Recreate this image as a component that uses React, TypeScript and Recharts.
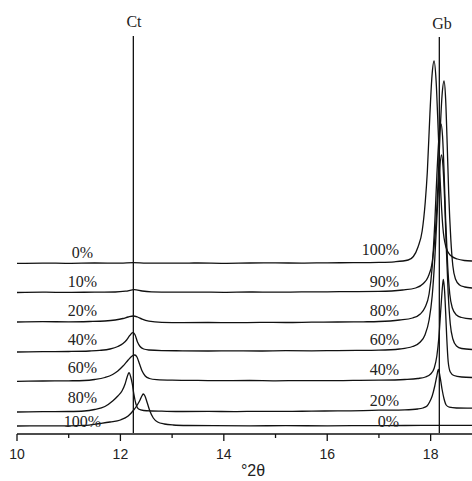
import React from 'react';
import { LineChart, Line, XAxis, YAxis, ReferenceLine, ReferenceDot, Label } from 'recharts';

type Pt = [number, number];

// Intensity traces (stacked, arbitrary units) — °2θ vs intensity
const ct0gb100: Pt[] = [
  [10, 170.6], [10.5, 170.9], [11, 170.7], [11.5, 171.0], [12, 170.8], [12.25, 171.4], [12.5, 170.9],
  [13, 170.8], [13.5, 171.0], [14, 170.7], [14.5, 171.0], [15, 171.1], [15.5, 170.9], [16, 171.2],
  [16.5, 171.3], [17, 171.6], [17.3, 172.2], [17.566, 174], [17.666, 177.5], [17.756, 187], [17.836, 203],
  [17.896, 232], [17.936, 262], [17.986, 320], [18.026, 358], [18.066, 373], [18.106, 353], [18.146, 304],
  [18.186, 252], [18.236, 207], [18.296, 187], [18.376, 179], [18.516, 175], [18.65, 173.5], [18.8, 173],
];
const ct10gb90: Pt[] = [
  [10, 141.5], [10.5, 141.8], [11, 141.6], [11.5, 141.9], [11.9, 142.0], [12.1, 142.8], [12.27, 144.3],
  [12.42, 143.0], [12.6, 142.2], [13, 141.8], [13.5, 141.9], [14, 141.7], [14.5, 142.0], [15, 141.8],
  [15.5, 142.1], [16, 142.2], [16.5, 142.4], [17, 142.6], [17.46, 144], [17.71, 146], [17.86, 150.5],
  [17.95, 157], [18.03, 171.5], [18.09, 201], [18.14, 247.5], [18.18, 298], [18.22, 338], [18.259, 353],
  [18.29, 335], [18.32, 290], [18.35, 240], [18.39, 195], [18.43, 168], [18.48, 155], [18.56, 149],
  [18.66, 147], [18.8, 146],
];
const ct20gb80: Pt[] = [
  [10, 112.0], [10.5, 112.3], [11, 112.2], [11.4, 112.5], [11.7, 113.0], [11.9, 114.0], [12.05, 115.5],
  [12.15, 117.0], [12.25, 118.0], [12.33, 117.0], [12.42, 114.8], [12.55, 112.8], [12.8, 111.6],
  [13.2, 111.4], [13.7, 111.5], [14.2, 111.3], [14.7, 111.6], [15.2, 111.5], [15.7, 111.8], [16.2, 112.0],
  [16.7, 112.2], [17.0, 112.5], [17.4, 114], [17.65, 116], [17.8, 120], [17.89, 126.5], [17.97, 140],
  [18.03, 167], [18.08, 211], [18.12, 258], [18.16, 296], [18.2, 310], [18.23, 298], [18.26, 262],
  [18.29, 215], [18.33, 168], [18.37, 140], [18.42, 126], [18.5, 119], [18.6, 116.5], [18.8, 115],
];
const ct40gb60: Pt[] = [
  [10, 82.0], [10.5, 82.3], [11, 82.5], [11.4, 83.0], [11.6, 83.6], [11.8, 85.0], [11.95, 87.5],
  [12.05, 90.5], [12.12, 94.0], [12.18, 98.5], [12.24, 101.3], [12.28, 99.5], [12.33, 92.0], [12.38, 87.5],
  [12.45, 85.0], [12.55, 84.0], [12.8, 83.4], [13.2, 83.2], [13.7, 83.0], [14.2, 83.2], [14.7, 83.0],
  [15.2, 83.3], [15.7, 83.2], [16.2, 83.4], [16.7, 83.6], [17.0, 83.8], [17.4, 85], [17.65, 87.5],
  [17.8, 92], [17.89, 99], [17.97, 114], [18.03, 138], [18.08, 175], [18.12, 215], [18.17, 262],
  [18.21, 279], [18.24, 267], [18.27, 235], [18.3, 190], [18.34, 140], [18.38, 110], [18.43, 95],
  [18.5, 88], [18.6, 85.5], [18.8, 84.5],
];
const ct60gb40: Pt[] = [
  [10, 52.7], [10.5, 53.0], [11, 53.2], [11.3, 53.5], [11.5, 54.5], [11.7, 56.5], [11.85, 59.5],
  [11.95, 63.0], [12.05, 68.0], [12.15, 74.0], [12.22, 77.8], [12.28, 79.0], [12.32, 77.0], [12.37, 70.0],
  [12.42, 63.0], [12.48, 58.0], [12.56, 55.5], [12.7, 54.3], [13.0, 53.8], [13.5, 53.6], [14, 53.3],
  [14.5, 53.5], [15, 53.2], [15.5, 53.4], [16, 53.3], [16.5, 53.6], [17, 53.8], [17.5, 54.5],
  [17.75, 55.5], [17.9, 57], [18.0, 60], [18.07, 66], [18.12, 78], [18.16, 97], [18.2, 127], [18.23, 148],
  [18.246, 154.7], [18.27, 143], [18.29, 122], [18.31, 98], [18.34, 72], [18.38, 62], [18.45, 58.5],
  [18.6, 57], [18.8, 56.5],
];
const ct80gb20: Pt[] = [
  [10, 22.0], [10.5, 22.3], [11, 22.5], [11.3, 23.0], [11.5, 24.5], [11.7, 27.5], [11.85, 33.0],
  [11.95, 38.0], [12.03, 43.0], [12.09, 50.0], [12.13, 57.0], [12.166, 61.3], [12.2, 57.0], [12.23, 50.0],
  [12.26, 40.0], [12.3, 30.0], [12.35, 25.0], [12.45, 23.5], [12.6, 23.0], [12.8, 22.8], [13.2, 22.5],
  [13.7, 22.6], [14.2, 22.4], [14.7, 22.7], [15.2, 22.6], [15.7, 22.9], [16.2, 23.1], [16.7, 23.4],
  [17.0, 23.8], [17.5, 24.2], [17.75, 25], [17.85, 26], [17.93, 28], [17.98, 32], [18.03, 38], [18.08, 48],
  [18.12, 58], [18.149, 64.7], [18.18, 58], [18.22, 45], [18.26, 35], [18.3, 29], [18.36, 26.8],
  [18.5, 26], [18.8, 25.8],
];
const ct100gb0: Pt[] = [
  [10, 8.0], [10.5, 8.1], [11, 8.2], [11.3, 8.6], [11.6, 10.5], [11.8, 12.0], [12.0, 14.0], [12.15, 18.0],
  [12.25, 23.5], [12.32, 28.5], [12.38, 34.0], [12.42, 38.5], [12.443, 40.0], [12.47, 38.5], [12.52, 31.0],
  [12.57, 23.0], [12.636, 16.0], [12.72, 12.0], [12.85, 10.0], [13.02, 9.0], [13.3, 8.5], [13.8, 8.3],
  [14.5, 8.2], [15.2, 8.3], [16, 8.2], [16.8, 8.4], [17.5, 8.5], [18.2, 8.6], [18.8, 8.6],
];

const SERIES: Pt[][] = [ct0gb100, ct10gb90, ct20gb80, ct40gb60, ct60gb40, ct80gb20, ct100gb0];
const LEFT_LABELS = ['0%', '10%', '20%', '40%', '60%', '80%', '100%'];
const RIGHT_LABELS = ['100%', '90%', '80%', '60%', '40%', '20%', '0%'];
const X_TICKS = [10, 11, 12, 13, 14, 15, 16, 17, 18];
const PHASE_NAMES = ['Ct', 'Gb'];
const PHASE_POS = [12.25, 18.168];

// layout (label anchors in axis units)
const LEFT_LABEL_X = 11.267;
const LEFT_LABEL_Y = [176, 147, 118, 89, 61, 31, 7.3];
const RIGHT_LABEL_X = 17.389;
const RIGHT_LABEL_Y = [179, 147, 118, 89, 59.5, 28, 7];
const PHASE_LINE_TOP = [398, 397];
const PHASE_LABEL_X = [12.263, 18.22];
const PHASE_LABEL_Y = [406.7, 405];

const INK = '#111';
const TEXT = '#222';
const SERIF = 'Liberation Serif, DejaVu Serif, serif';
const SANS = 'Liberation Sans, Arial, sans-serif';

const AxisTick = (props: any) => {
  const { x, y, payload } = props;
  const v = payload.value as number;
  const major = v % 2 === 0;
  return (
    <g>
      <line x1={x} x2={x} y1={y} y2={y + (major ? 7 : 4)} stroke={INK} strokeWidth={1.3} />
      {major && (
        <text x={x} y={y + 25} textAnchor="middle" style={{ fontSize: 14, fontFamily: SANS }} fill={TEXT}>
          {v}
        </text>
      )}
    </g>
  );
};

const textShape = (label: string, anchor: 'start' | 'middle' | 'end', size: number) =>
  (p: any) => (
    <text x={p.cx} y={p.cy} textAnchor={anchor} style={{ fontSize: size, fontFamily: SERIF }} fill={TEXT}>
      {label}
    </text>
  );

export default function App() {
  return (
    <div style={{ position: 'absolute', left: 0, top: 0 }}>
      <LineChart width={472} height={481} margin={{ top: 10, right: 0, bottom: 0, left: 17 }}>
        <XAxis
          type="number"
          dataKey="x"
          domain={[10, 18.8]}
          ticks={X_TICKS}
          interval={0}
          height={47}
          tickSize={0}
          tickMargin={0}
          tickLine={false}
          axisLine={{ stroke: INK, strokeWidth: 1.3 }}
          tick={(p: any) => <AxisTick {...p} />}
          allowDataOverflow
        >
          <Label value="°2θ" position="insideBottom" offset={5} dx={8.5}
            style={{ fontSize: 16, fontFamily: SANS }} fill={TEXT} />
        </XAxis>
        <YAxis hide type="number" domain={[0, 424]} allowDataOverflow />
        {PHASE_POS.map((px, i) => (
          <ReferenceLine
            key={'pl' + i}
            segment={[{ x: px, y: 1 }, { x: px, y: PHASE_LINE_TOP[i] }]}
            stroke={INK}
            strokeWidth={1.3}
          />
        ))}
        {PHASE_NAMES.map((n, i) => (
          <ReferenceDot key={'pn' + i} x={PHASE_LABEL_X[i]} y={PHASE_LABEL_Y[i]} r={0}
            shape={textShape(n, 'middle', 16)} />
        ))}
        {SERIES.map((s, i) => (
          <Line
            key={'s' + i}
            data={s.map(([x, y]) => ({ x, y }))}
            dataKey="y"
            type="monotone"
            dot={false}
            stroke={INK}
            strokeWidth={1.3}
            isAnimationActive={false}
          />
        ))}
        {LEFT_LABELS.map((t, i) => (
          <ReferenceDot key={'ll' + i} x={LEFT_LABEL_X} y={LEFT_LABEL_Y[i]} r={0}
            shape={textShape(t, 'middle', 16)} />
        ))}
        {RIGHT_LABELS.map((t, i) => (
          <ReferenceDot key={'rl' + i} x={RIGHT_LABEL_X} y={RIGHT_LABEL_Y[i]} r={0}
            shape={textShape(t, 'end', 16)} />
        ))}
      </LineChart>
    </div>
  );
}
